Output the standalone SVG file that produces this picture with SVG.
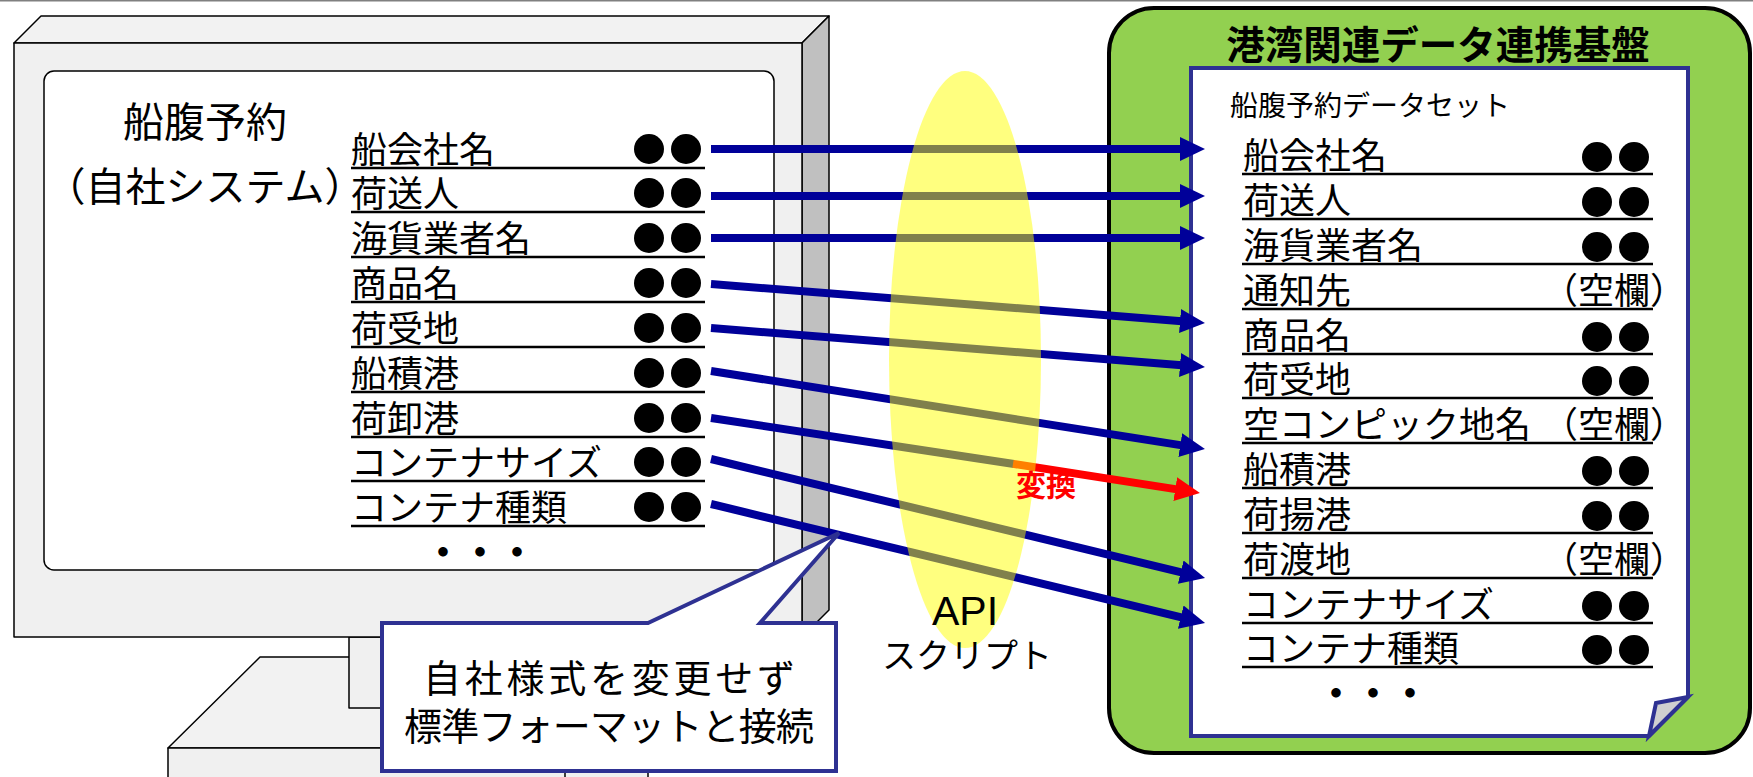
<svg xmlns="http://www.w3.org/2000/svg" width="1753" height="777" viewBox="0 0 1753 777">
  <defs>
    <style>
      .jp { font-family: "Noto Sans CJK JP", "Noto Sans CJK SC", sans-serif; fill: #000; }
      .item { font-size: 36px; }
      .rule { stroke: #000; stroke-width: 2.5; fill: none; }
      .dot { fill: #000; }
      .mon { stroke: #000; stroke-width: 1.5; stroke-linejoin: round; }
      .link { stroke: #000099; stroke-width: 8; fill: none; }
      .conv { stroke: #ff0000; stroke-width: 8; fill: none; }
      .navy { stroke: #2e3192; stroke-width: 4; stroke-linejoin: miter; }
    </style>
    <marker id="headBlue" markerUnits="userSpaceOnUse" markerWidth="25" markerHeight="24" viewBox="0 0 25 24" refX="5" refY="12" orient="auto">
      <path d="M0,0 L25,12 L0,24 Z" fill="#000099"/>
    </marker>
    <marker id="headRed" markerUnits="userSpaceOnUse" markerWidth="25" markerHeight="24" viewBox="0 0 25 24" refX="5" refY="12" orient="auto">
      <path d="M0,0 L25,12 L0,24 Z" fill="#ff0000"/>
    </marker>
  </defs>

  <rect width="1753" height="777" fill="#ffffff"/>
  <line x1="0" y1="0.75" x2="1753" y2="0.75" stroke="#808080" stroke-width="1.5"/>

  <!-- Company system: monitor with booking screen -->
  <g id="monitor">
    <polygon class="mon" points="260,657 556,657 648,748 168,748" fill="#f2f2f2"/>
    <rect class="mon" x="168" y="748" width="480" height="40" fill="#f0f0f0"/>
    <line class="mon" x1="565" y1="768" x2="565" y2="777"/>
    <rect class="mon" x="349" y="637" width="118" height="71" fill="#f0f0f0"/>
    <polygon class="mon" points="14,43 41,16 829,16 802,43" fill="#f2f2f2"/>
    <polygon class="mon" points="802,43 829,16 829,610 802,637" fill="#c0c0c0"/>
    <rect class="mon" x="14" y="43" width="788" height="594" fill="#f0f0f0"/>
    <rect class="mon" x="44" y="71" width="730" height="499" rx="10" fill="#ffffff"/>

    <text class="jp" x="205" y="137" font-size="41" text-anchor="middle">船腹予約</text>
    <text class="jp" x="205" y="201" font-size="40" text-anchor="middle">（自社システム）</text>

    <g id="own-fields">
      <text class="jp item" x="351" y="163">船会社名</text>
      <text class="jp item" x="351" y="207">荷送人</text>
      <text class="jp item" x="351" y="252">海貨業者名</text>
      <text class="jp item" x="351" y="297">商品名</text>
      <text class="jp item" x="351" y="342">荷受地</text>
      <text class="jp item" x="351" y="387">船積港</text>
      <text class="jp item" x="351" y="432">荷卸港</text>
      <text class="jp item" x="351" y="476">コンテナサイズ</text>
      <text class="jp item" x="351" y="521">コンテナ種類</text>
      <path class="rule" d="M351,168H705 M351,212H705 M351,257H705 M351,302H705 M351,347H705 M351,392H705 M351,437H705 M351,481H705 M351,526H705"/>
      <g class="dot">
        <circle cx="649" cy="149" r="15"/><circle cx="686" cy="149" r="15"/>
        <circle cx="649" cy="193" r="15"/><circle cx="686" cy="193" r="15"/>
        <circle cx="649" cy="238" r="15"/><circle cx="686" cy="238" r="15"/>
        <circle cx="649" cy="283" r="15"/><circle cx="686" cy="283" r="15"/>
        <circle cx="649" cy="328" r="15"/><circle cx="686" cy="328" r="15"/>
        <circle cx="649" cy="373" r="15"/><circle cx="686" cy="373" r="15"/>
        <circle cx="649" cy="418" r="15"/><circle cx="686" cy="418" r="15"/>
        <circle cx="649" cy="462" r="15"/><circle cx="686" cy="462" r="15"/>
        <circle cx="649" cy="507" r="15"/><circle cx="686" cy="507" r="15"/>
      </g>
      <text class="jp" x="480" y="566" font-size="37" font-weight="bold" text-anchor="middle">・・・</text>
    </g>
  </g>

  <!-- Port data platform with the standard dataset sheet -->
  <g id="platform">
    <rect x="1109" y="8" width="641" height="745" rx="45" fill="#92d050" stroke="#000" stroke-width="4"/>
    <text class="jp" x="1438" y="59" font-size="38.5" font-weight="bold" text-anchor="middle">港湾関連データ連携基盤</text>
  </g>

  <g id="dataset">
    <path class="navy" d="M1191,68 L1688,68 L1688,697 L1649,736 L1191,736 Z" fill="#ffffff"/>
    <polygon class="navy" points="1688,697 1656,703 1649,736" fill="#d0d0d0" stroke-width="3"/>
    <text class="jp" x="1230" y="116" font-size="28">船腹予約データセット</text>

    <text class="jp item" x="1243" y="169">船会社名</text>
    <text class="jp item" x="1243" y="214">荷送人</text>
    <text class="jp item" x="1243" y="259">海貨業者名</text>
    <text class="jp item" x="1243" y="304">通知先</text>
    <text class="jp item" x="1243" y="349">商品名</text>
    <text class="jp item" x="1243" y="393">荷受地</text>
    <text class="jp item" x="1243" y="438">空コンピック地名</text>
    <text class="jp item" x="1243" y="483">船積港</text>
    <text class="jp item" x="1243" y="528">荷揚港</text>
    <text class="jp item" x="1243" y="573">荷渡地</text>
    <text class="jp item" x="1243" y="618">コンテナサイズ</text>
    <text class="jp item" x="1243" y="662">コンテナ種類</text>

    <text class="jp item" x="1686" y="304" text-anchor="end">（空欄）</text>
    <text class="jp item" x="1686" y="438" text-anchor="end">（空欄）</text>
    <text class="jp item" x="1686" y="573" text-anchor="end">（空欄）</text>

    <path class="rule" d="M1242,174H1653 M1242,219H1653 M1242,264H1653 M1242,309H1653 M1242,354H1653 M1242,398H1653 M1242,443H1653 M1242,488H1653 M1242,533H1653 M1242,578H1653 M1242,623H1653 M1242,667H1653"/>
    <g class="dot">
      <circle cx="1597" cy="157" r="15"/><circle cx="1634" cy="157" r="15"/>
      <circle cx="1597" cy="202" r="15"/><circle cx="1634" cy="202" r="15"/>
      <circle cx="1597" cy="247" r="15"/><circle cx="1634" cy="247" r="15"/>
      <circle cx="1597" cy="337" r="15"/><circle cx="1634" cy="337" r="15"/>
      <circle cx="1597" cy="381" r="15"/><circle cx="1634" cy="381" r="15"/>
      <circle cx="1597" cy="471" r="15"/><circle cx="1634" cy="471" r="15"/>
      <circle cx="1597" cy="516" r="15"/><circle cx="1634" cy="516" r="15"/>
      <circle cx="1597" cy="606" r="15"/><circle cx="1634" cy="606" r="15"/>
      <circle cx="1597" cy="650" r="15"/><circle cx="1634" cy="650" r="15"/>
    </g>
    <text class="jp" x="1373" y="707" font-size="37" font-weight="bold" text-anchor="middle">・・・</text>
  </g>

  <!-- Field mappings -->
  <g id="connectors">
    <path class="link" d="M711,149 L1185,149" marker-end="url(#headBlue)"/>
    <path class="link" d="M711,196 L1185,196" marker-end="url(#headBlue)"/>
    <path class="link" d="M711,238 L1185,238" marker-end="url(#headBlue)"/>
    <path class="link" d="M711,284 L1185,321.4" marker-end="url(#headBlue)"/>
    <path class="link" d="M711,328 L1185,365.4" marker-end="url(#headBlue)"/>
    <path class="link" d="M711,371 L1185.2,445.9" marker-end="url(#headBlue)"/>
    <path class="link" d="M711,418 L1014,464"/>
    <path class="conv" d="M1013,463.85 L1180.2,489.9" marker-end="url(#headRed)"/>
    <path class="link" d="M711,459 L1185.6,573.3" marker-end="url(#headBlue)"/>
    <path class="link" d="M711,504 L1185.6,618.3" marker-end="url(#headBlue)"/>
  </g>

  <!-- API script layer -->
  <g id="api">
    <ellipse cx="965" cy="359.5" rx="76" ry="288.5" fill="#ffff00" fill-opacity="0.5"/>
    <text x="965" y="625" font-family="'Liberation Sans', Arial, sans-serif" font-size="41" text-anchor="middle">API</text>
    <text class="jp" x="967" y="668" font-size="34" text-anchor="middle">スクリプト</text>
  </g>

  <g id="conversion-label">
    <text x="1016" y="496" font-family="'Noto Sans CJK JP', sans-serif" font-size="30" font-weight="bold" fill="#ff0000">変換</text>
  </g>

  <!-- Callout on the monitor -->
  <g id="callout">
    <path class="navy" d="M382,623 L648,623 L839,533 L760,623 L836,623 L836,771 L382,771 Z" fill="#ffffff"/>
    <text class="jp" x="609" y="692" font-size="38" text-anchor="middle" textLength="372">自社様式を変更せず</text>
    <text class="jp" x="609" y="740" font-size="38" text-anchor="middle" textLength="410">標準フォーマットと接続</text>
  </g>
</svg>
